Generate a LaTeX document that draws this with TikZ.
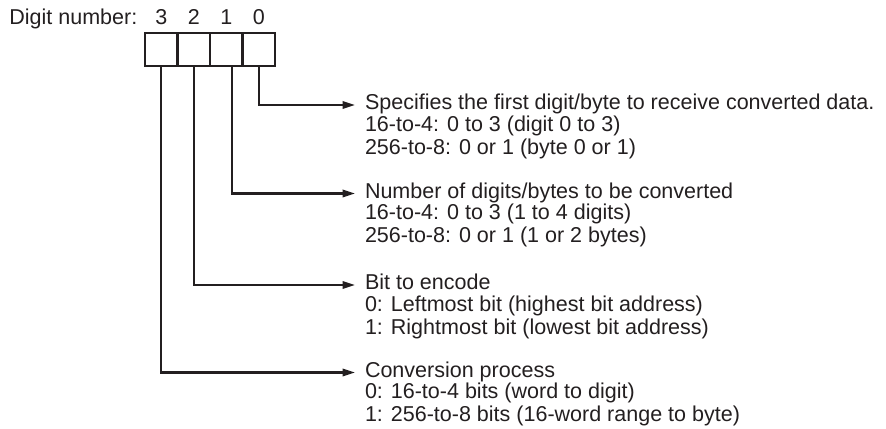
\documentclass[tikz,border=0pt]{standalone}
\usepackage{fontspec}
\setmainfont{Liberation Sans}
\usepackage{xcolor}
\usepackage{tikz}
\usetikzlibrary{positioning, arrows.meta}

\definecolor{ink}{HTML}{231F20}

\begin{document}
\begin{tikzpicture}[
    >={Triangle[length=2.5mm, width=1.5mm]},
    font=\fontsize{12.24}{12.92}\selectfont,
    every node/.style={text=ink, inner sep=0pt, outer sep=0pt},
    cell/.style={draw=ink, line width=1.2pt, minimum width=6.5mm, minimum height=6.6mm},
    digit/.style={},
    head/.style={anchor=west, text height=0.75em, text depth=0.2em},
    detail/.style={align=left},
    link/.style={->, draw=ink, line width=1.2pt, shorten >=2mm}
]
\useasboundingbox (0,0) rectangle (17.72,-8.58);

% the four digits of the control word
\foreach \d/\x in {3/3.225, 2/3.875, 1/4.525, 0/5.175} {
    \node[cell] (c\d) at (\x, -0.99) {};
    \node[digit, above=1.6mm of c\d] (d\d) {\d};
}
\node[anchor=base east] (dnum) at ([xshift=-3.6mm]d3.base west) {Digit number:};

% descriptions
\node[head] (spec) at (7.3, -2.1)  {Specifies the first digit/byte to receive converted data.};
\node[detail, below right=1.4pt and 0pt of spec.south west] (specd)
    {16-to-4: 0 to 3 (digit 0 to 3)\\256-to-8: 0 or 1 (byte 0 or 1)};

\node[head] (num) at (7.3, -3.87)  {Number of digits/bytes to be converted};
\node[detail, below right=1.4pt and 0pt of num.south west] (numd)
    {16-to-4: 0 to 3 (1 to 4 digits)\\256-to-8: 0 or 1 (1 or 2 bytes)};

\node[head] (bit) at (7.3, -5.7)   {Bit to encode};
\node[detail, below right=1.4pt and 0pt of bit.south west] (bitd)
    {0: Leftmost bit (highest bit address)\\1: Rightmost bit (lowest bit address)};

\node[head] (conv) at (7.3, -7.45) {Conversion process};
\node[detail, below right=1.4pt and 0pt of conv.south west] (convd)
    {0: 16-to-4 bits (word to digit)\\1: 256-to-8 bits (16-word range to byte)};

% leaders
\draw[link] (c0.south) |- (spec.west);
\draw[link] ([xshift=1.2mm]c1.south) |- (num.west);
\draw[link] (c2.south) |- (bit.west);
\draw[link] (c3.south) |- (conv.west);
\end{tikzpicture}
\end{document}
